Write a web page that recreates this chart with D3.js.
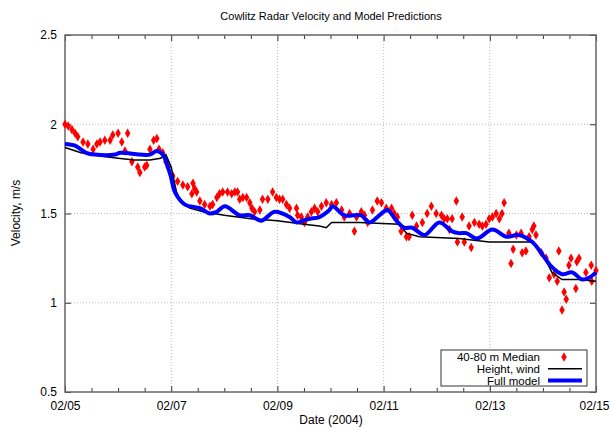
<!DOCTYPE html>
<html>
<head>
<meta charset="utf-8">
<script src="https://cdn.jsdelivr.net/npm/d3@7"></script>
<style>
  body { margin: 0; background: #fff; }
  svg text { font-family: "Liberation Sans", Arial, sans-serif; fill: #000; }
</style>
</head>
<body>
<svg id="chart" width="610" height="428"></svg>
<script>
// days since 2004-02-05 00:00
const medianDays = [0.00,0.06,0.13,0.19,0.24,0.34,0.43,0.53,0.60,0.66,0.75,0.85,0.90,1.00,1.07,1.13,1.18,1.26,1.37,1.41,1.50,1.54,1.60,1.67,1.73,1.77,1.84,1.90,1.94,2.03,2.12,2.22,2.31,2.39,2.41,2.44,2.48,
  2.54,2.63,2.73,2.78,2.86,2.91,2.97,3.06,3.14,3.20,3.25,3.29,3.35,3.42,3.48,3.52,3.57,3.67,3.72,3.82,3.91,3.98,4.04,4.10,4.17,4.23,4.36,4.38,4.45,4.51,4.57,4.64,4.70,4.76,4.83,4.92,
  5.02,5.11,5.21,5.26,5.36,5.45,5.49,5.58,5.64,5.70,5.79,5.88,5.96,6.05,6.15,6.20,6.26,6.33,6.43,6.48,6.54,6.62,6.73,6.82,6.90,6.99,
  7.09,7.14,7.20,7.24,7.29,7.37,7.39,7.48,7.52,7.61,7.65,7.71,7.80,7.86,7.93,7.99,8.05,8.12,8.18,8.23,8.27,8.36,8.40,8.44,8.50,8.59,8.61,8.68,8.74,8.80,8.83,8.87,8.97,
  9.06,9.12,9.21,9.27,9.30,9.36,9.40,9.44,9.49,9.53,9.62,9.64,9.68,9.81,9.91,9.92,10.0];
const medianVals = [2.00,1.99,1.97,1.95,1.93,1.90,1.89,1.86,1.89,1.90,1.91,1.91,1.94,1.95,1.90,1.85,1.95,1.79,1.76,1.73,1.76,1.77,1.86,1.91,1.92,1.86,1.84,1.79,1.76,1.71,1.68,1.66,1.65,1.61,1.67,1.64,1.62,
  1.57,1.55,1.54,1.55,1.59,1.61,1.62,1.62,1.61,1.62,1.62,1.58,1.59,1.59,1.56,1.53,1.51,1.52,1.58,1.58,1.62,1.59,1.58,1.58,1.55,1.53,1.53,1.49,1.48,1.45,1.48,1.51,1.53,1.51,1.54,1.56,
  1.55,1.56,1.52,1.48,1.50,1.40,1.48,1.51,1.49,1.45,1.52,1.57,1.56,1.53,1.53,1.50,1.48,1.40,1.37,1.37,1.49,1.43,1.45,1.50,1.54,1.50,
  1.49,1.47,1.47,1.41,1.47,1.57,1.34,1.48,1.34,1.43,1.31,1.45,1.44,1.43,1.44,1.47,1.48,1.50,1.47,1.50,1.56,1.39,1.22,1.30,1.38,1.39,1.28,1.29,1.37,1.41,1.43,1.38,1.28,
  1.25,1.14,1.16,1.12,1.29,0.96,1.06,1.02,1.21,1.25,1.08,1.23,1.25,1.17,1.21,1.12,1.18];

const heightWindDays = [0,0.3,0.7,1.0,1.3,1.6,1.8,1.9,2.0,2.1,2.2,2.35,2.6,3.0,3.5,4.0,4.5,4.79,4.92,5.02,5.55,6.30,6.43,6.67,7.42,7.99,8.80,9.02,9.17,9.36,9.68,10.0];
const heightWindVals = [1.87,1.84,1.82,1.81,1.80,1.80,1.81,1.83,1.76,1.62,1.56,1.53,1.51,1.49,1.47,1.46,1.44,1.43,1.42,1.45,1.45,1.44,1.39,1.37,1.36,1.34,1.34,1.26,1.17,1.13,1.13,1.12];

const fullModelDays = [0,0.19,0.4,0.56,0.94,1.04,1.41,1.6,1.73,1.84,1.99,2.07,2.26,2.54,2.73,2.86,3.01,3.29,3.48,3.70,3.95,4.23,4.36,4.48,4.61,4.79,4.98,5.04,5.26,5.45,5.58,5.73,5.92,6.07,6.24,6.39,6.54,6.77,7.05,7.29,7.42,7.56,7.76,8.05,8.31,8.55,8.80,8.99,9.17,9.36,9.55,9.74,9.87,10.0];
const fullModelVals = [1.89,1.88,1.84,1.83,1.83,1.84,1.83,1.83,1.85,1.83,1.71,1.62,1.55,1.53,1.50,1.51,1.54,1.49,1.49,1.46,1.51,1.48,1.45,1.46,1.47,1.48,1.52,1.54,1.49,1.49,1.49,1.45,1.49,1.52,1.46,1.42,1.42,1.38,1.45,1.40,1.39,1.39,1.36,1.41,1.37,1.38,1.34,1.27,1.20,1.16,1.17,1.13,1.14,1.17];

const yTicks = [0.5, 1, 1.5, 2, 2.5];
const legendItems = ["40-80 m Median", "Height, wind", "Full model"];

const width = 610, height = 428;
const margin = { top: 35, right: 14, bottom: 36, left: 65 };
const start = new Date(2004, 1, 5);
const toDate = (d) => new Date(start.getTime() + d * 864e5);
const isMajor = (d) => d.getHours() === 0 && (d.getDate() - 5) % 2 === 0;

const svg = d3.select("#chart");

const xScale = d3.scaleTime()
    .domain([start, new Date(2004, 1, 15)])
    .range([margin.left, width - margin.right]);
const yScale = d3.scaleLinear()
    .domain([0.5, 2.5])
    .range([height - margin.bottom, margin.top]);

const majorX = d3.timeDay.every(2).range(start, new Date(2004, 1, 15, 1));
const minorX = d3.timeHour.every(12).range(start, new Date(2004, 1, 15, 1));

// grid
const grid = svg.append("g").attr("stroke", "#bbb").attr("stroke-dasharray", "1,2").attr("stroke-width", 1);
grid.selectAll(".gx").data(majorX.slice(1, -1)).enter().append("line")
    .attr("x1", d => xScale(d)).attr("x2", d => xScale(d))
    .attr("y1", margin.top).attr("y2", height - margin.bottom);
grid.selectAll(".gy").data(yTicks.slice(1, -1)).enter().append("line")
    .attr("y1", d => yScale(d)).attr("y2", d => yScale(d))
    .attr("x1", margin.left).attr("x2", width - margin.right);

// axes (ticks inward, mirrored)
const gxb = svg.append("g").attr("transform", `translate(0,${height - margin.bottom})`)
    .call(d3.axisBottom(xScale).tickValues(minorX).tickSize(-4).tickPadding(9)
        .tickFormat(d => isMajor(d) ? d3.timeFormat("%m/%d")(d) : ""));
gxb.selectAll(".tick line").attr("y2", d => isMajor(d) ? -6 : -4);
const gxt = svg.append("g").attr("transform", `translate(0,${margin.top})`)
    .call(d3.axisTop(xScale).tickValues(minorX).tickSize(-4).tickFormat(""));
gxt.selectAll(".tick line").attr("y2", d => isMajor(d) ? 6 : 4);

const gyl = svg.append("g").attr("transform", `translate(${margin.left},0)`)
    .call(d3.axisLeft(yScale).tickValues(yTicks).tickSize(-6).tickPadding(8).tickFormat(d3.format("")));
const gyr = svg.append("g").attr("transform", `translate(${width - margin.right},0)`)
    .call(d3.axisRight(yScale).tickValues(yTicks).tickSize(-6).tickFormat(""));

[gxb, gxt, gyl, gyr].forEach(g => {
    g.select(".domain").remove();
    g.selectAll(".tick line").attr("stroke", "#333");
    g.selectAll("text").style("font-size", "12px").attr("fill", "#000");
});
// last date label sits flush with the right edge like the reference
gxb.selectAll(".tick text").filter((d, i, n) => i === n.length - 1).attr("text-anchor", "end").attr("dx", "13");

// frame
svg.append("rect")
    .attr("x", margin.left).attr("y", margin.top)
    .attr("width", width - margin.left - margin.right)
    .attr("height", height - margin.top - margin.bottom)
    .attr("fill", "none").attr("stroke", "#666").attr("stroke-width", 1.5);

// series
const plot = svg.append("g");
const hw = heightWindDays.map((d, i) => [toDate(d), heightWindVals[i]]);
const fm = fullModelDays.map((d, i) => [toDate(d), fullModelVals[i]]);
const med = medianDays.map((d, i) => [toDate(d), medianVals[i]]);

const line = d3.line().x(d => xScale(d[0])).y(d => yScale(d[1]));

const diamond = d3.symbol().type(d3.symbolDiamond).size(26);
plot.selectAll(".pt").data(med).enter().append("path")
    .attr("d", diamond)
    .attr("transform", d => `translate(${xScale(d[0])},${yScale(d[1])})`)
    .attr("fill", "#ff0000");

plot.append("path").datum(hw)
    .attr("d", line)
    .attr("fill", "none").attr("stroke", "#000").attr("stroke-width", 1.5);

plot.append("path").datum(fm)
    .attr("d", line.curve(d3.curveCatmullRom))
    .attr("fill", "none").attr("stroke", "#0000ff").attr("stroke-width", 4)
    .attr("stroke-linejoin", "round");

// legend
const lg = svg.append("g");
lg.append("rect").attr("x", 441).attr("y", 350).attr("width", 146).attr("height", 36)
    .attr("fill", "#fff").attr("stroke", "#333").attr("stroke-width", 1);
legendItems.forEach((name, i) => {
    const yy = 357 + i * 11.8;
    lg.append("text").attr("x", 540).attr("y", yy + 4).attr("text-anchor", "end")
        .style("font-size", "11.5px").text(name);
});
lg.append("path").attr("d", diamond).attr("transform", "translate(564,357)").attr("fill", "#ff0000");
lg.append("line").attr("x1", 548).attr("x2", 582).attr("y1", 368.8).attr("y2", 368.8)
    .attr("stroke", "#000").attr("stroke-width", 1.5);
lg.append("line").attr("x1", 548).attr("x2", 582).attr("y1", 380.6).attr("y2", 380.6)
    .attr("stroke", "#0000ff").attr("stroke-width", 4);

// titles
svg.append("text").attr("x", 331).attr("y", 20).attr("text-anchor", "middle")
    .style("font-size", "11px").text("Cowlitz Radar Velocity and Model Predictions");
svg.append("text").attr("x", 331).attr("y", 424).attr("text-anchor", "middle")
    .style("font-size", "12px").text("Date (2004)");
svg.append("text").attr("transform", "translate(20,213) rotate(-90)").attr("text-anchor", "middle")
    .style("font-size", "12px").text("Velocity, m/s");
</script>
</body>
</html>
